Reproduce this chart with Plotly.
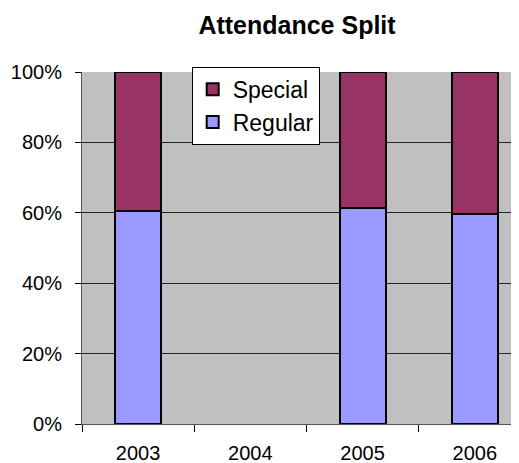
import plotly.graph_objects as go

# data
years = ["2003", "2004", "2005", "2006"]
regular = [0.606, None, 0.613, 0.596]
special = [0.394, None, 0.387, 0.404]
y_ticks = [0, 0.2, 0.4, 0.6, 0.8, 1.0]
y_tick_text = ["0%", "20%", "40%", "60%", "80%", "100%"]

fig = go.Figure()
fig.add_trace(go.Bar(
    x=years, y=regular, name="Regular",
    marker=dict(color="#9999FF", line=dict(color="black", width=2)),
    width=0.41,
))
fig.add_trace(go.Bar(
    x=years, y=special, name="Special",
    marker=dict(color="#993366", line=dict(color="black", width=2)),
    width=0.41,
))

# page body adds 8px offset, so the figure is drawn 8px smaller
fig.update_layout(
    width=511, height=455,
    barmode="stack",
    plot_bgcolor="#C0C0C0",
    paper_bgcolor="white",
    font=dict(family="Arial, Liberation Sans", size=20, color="black"),
    margin=dict(l=74, r=0, t=64, b=39),
    title=dict(
        text="<b>Attendance Split</b>",
        x=289 / 511, xanchor="center",
        y=1 - 17 / 455, yanchor="middle",
        font=dict(size=25),
    ),
    legend=dict(
        x=0.251, y=1.015, xanchor="left", yanchor="top",
        bgcolor="white", bordercolor="black", borderwidth=1,
        traceorder="reversed",
        font=dict(size=23),
        itemwidth=30,
    ),
    showlegend=True,
)

fig.update_xaxes(
    type="category",
    range=[-0.5, 3.394],
    showgrid=False,
    showline=True, linecolor="#555555", linewidth=1,
    ticks="outside", tickson="boundaries", ticklen=7, tickcolor="black",
    ticklabelstandoff=11,
    automargin=False,
    fixedrange=True,
)
fig.update_yaxes(
    range=[0, 1],
    tickvals=y_ticks, ticktext=y_tick_text,
    showgrid=True, gridcolor="#222222", gridwidth=1,
    showline=True, linecolor="#555555", linewidth=1,
    ticks="outside", ticklen=6, tickcolor="black",
    ticklabelstandoff=9,
    zeroline=False,
    automargin=False,
    fixedrange=True,
)

fig.write_html("out.html")
